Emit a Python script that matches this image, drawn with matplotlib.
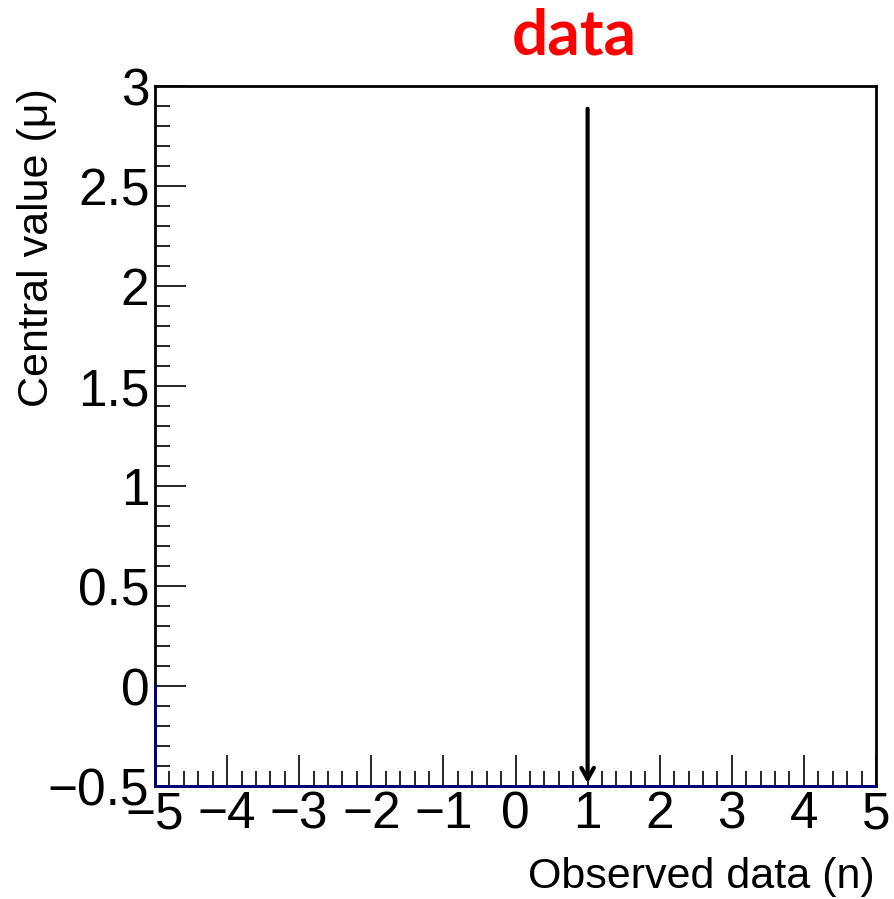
import matplotlib
matplotlib.use("Agg")
import matplotlib.pyplot as plt
from matplotlib.ticker import MultipleLocator, FixedFormatter, FixedLocator
import numpy as np

# data
x_ticks = [-5, -4, -3, -2, -1, 0, 1, 2, 3, 4, 5]
x_labels = ["\u22125", "\u22124", "\u22123", "\u22122", "\u22121", "0", "1", "2", "3", "4", "5"]
y_ticks = [-0.5, 0, 0.5, 1, 1.5, 2, 2.5, 3]
y_labels = ["\u22120.5", "0", "0.5", "1", "1.5", "2", "2.5", "3"]
curve_x = [-5, -5, 5]
curve_y = [0.0, -0.5, -0.5]
arrow_x = 1
arrow_y_start = 2.9
arrow_y_end = -0.5
title = "data"
xlabel = "Observed data (n)"
ylabel = "Central value (\u03bc)"

W, H = 894, 899
fig = plt.figure(figsize=(W / 100, H / 100), dpi=100)
l, r, t, b = 155, 876, 86, 786
ax = fig.add_axes([l / W, 1 - b / H, (r - l) / W, (b - t) / H])
ax.set_xlim(-5, 5)
ax.set_ylim(-0.5, 3)

ax.plot(curve_x, curve_y, color="#000080", lw=2, clip_on=False, zorder=3)
ax.annotate("", xy=(arrow_x, arrow_y_end), xytext=(arrow_x, arrow_y_start),
            arrowprops=dict(arrowstyle="->,head_length=0.8,head_width=0.45", color="black", lw=3),
            zorder=4)

ax.xaxis.set_major_locator(FixedLocator(x_ticks))
ax.xaxis.set_major_formatter(FixedFormatter(x_labels))
ax.xaxis.set_minor_locator(MultipleLocator(0.2))
ax.yaxis.set_major_locator(FixedLocator(y_ticks))
ax.yaxis.set_major_formatter(FixedFormatter(y_labels))
ax.yaxis.set_minor_locator(MultipleLocator(0.1))

fs = 37
ax.tick_params(which="both", direction="in", top=False, right=False, labelsize=fs, width=1.2)
ax.tick_params(which="major", length=22)
ax.tick_params(which="minor", length=11)
ax.tick_params(axis="x", pad=3)
ax.tick_params(axis="y", pad=4)
for lab in ax.get_xticklabels() + ax.get_yticklabels():
    lab.set_fontfamily("Liberation Sans")
for s in ax.spines.values():
    s.set_linewidth(2)

fig.text(875 / W, 1 - 877 / H, xlabel, ha="right", va="center", fontsize=31, family="Liberation Sans")
fig.text(37 / W, 1 - 88 / H, ylabel, ha="center", va="top", rotation=90, fontsize=31, family="Liberation Sans")
fig.text(574 / W, 1 - 36 / H, title, ha="center", va="center", fontsize=46, fontweight="bold",
         color="#ff0000", family="Lato")

fig.savefig("out.png", dpi=100)
